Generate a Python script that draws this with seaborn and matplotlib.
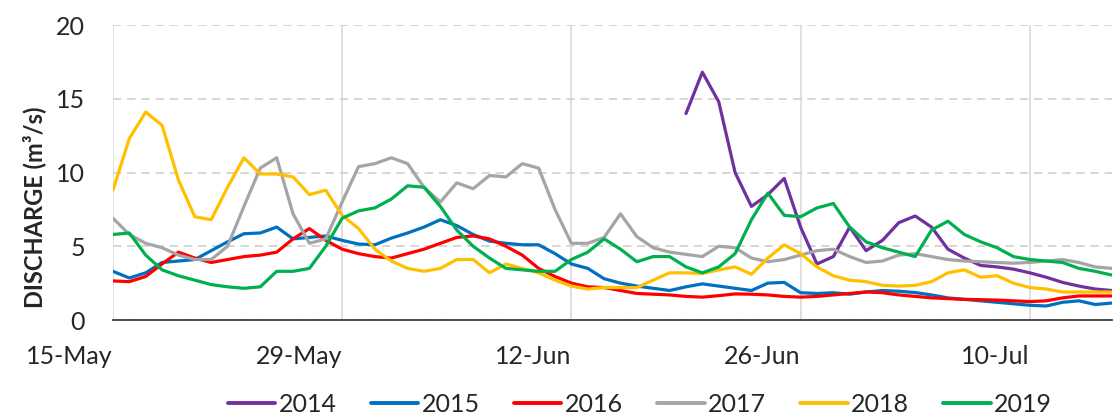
import numpy as np
import pandas as pd
import seaborn as sns
import matplotlib.pyplot as plt
import matplotlib.dates as mdates

# daily discharge (m3/s), 15-May .. 15-Jul
dates = pd.date_range("2019-05-15", "2019-07-15", freq="D")
years = ["2014", "2015", "2016", "2017", "2018", "2019"]
colors = ["#7030A0", "#0070C0", "#FF0000", "#A5A5A5", "#FFC000", "#00B050"]

q2014 = [np.nan] * 35 + [14.0, 16.8, 14.8, 10.0, 7.7, 8.5, 9.6, 6.3, 3.8, 4.3,
                         6.3, 4.7, 5.4, 6.6, 7.05, 6.3, 4.8, 4.2, 3.7, 3.6,
                         3.45, 3.2, 2.9, 2.55, 2.3, 2.1, 2.0]
q2015 = [3.3, 2.85, 3.2, 3.9, 4.0, 4.1, 4.7, 5.3, 5.85, 5.9,
         6.3, 5.5, 5.6, 5.7, 5.4, 5.15, 5.1, 5.55, 5.9, 6.3,
         6.8, 6.4, 5.8, 5.35, 5.2, 5.1, 5.1, 4.5, 3.8, 3.5,
         2.8, 2.5, 2.3, 2.15, 2.0, 2.25, 2.45, 2.3, 2.15, 2.0,
         2.5, 2.55, 1.85, 1.8, 1.85, 1.75, 1.9, 2.0, 1.95, 1.86,
         1.7, 1.5, 1.4, 1.3, 1.2, 1.1, 1.0, 0.95, 1.2, 1.3,
         1.05, 1.15]
q2016 = [2.65, 2.6, 2.95, 3.8, 4.6, 4.2, 3.9, 4.1, 4.3, 4.4,
         4.6, 5.5, 6.2, 5.4, 4.8, 4.5, 4.3, 4.2, 4.5, 4.8,
         5.2, 5.6, 5.7, 5.5, 5.0, 4.4, 3.5, 2.95, 2.5, 2.25,
         2.2, 2.0, 1.8, 1.75, 1.7, 1.6, 1.55, 1.65, 1.77, 1.75,
         1.7, 1.6, 1.55, 1.6, 1.7, 1.8, 1.9, 1.85, 1.7, 1.6,
         1.5, 1.45, 1.4, 1.38, 1.35, 1.3, 1.25, 1.3, 1.5, 1.63,
         1.63, 1.63]
q2017 = [6.9, 5.8, 5.2, 4.9, 4.4, 4.1, 4.1, 5.0, 7.7, 10.3,
         11.0, 7.2, 5.2, 5.5, 8.0, 10.4, 10.6, 11.0, 10.6, 9.0,
         8.0, 9.3, 8.9, 9.8, 9.7, 10.6, 10.3, 7.5, 5.2, 5.2,
         5.6, 7.2, 5.65, 4.9, 4.6, 4.45, 4.3, 5.0, 4.9, 4.2,
         3.95, 4.1, 4.4, 4.7, 4.8, 4.3, 3.9, 4.0, 4.4, 4.5,
         4.3, 4.1, 4.0, 3.95, 3.9, 3.85, 3.9, 4.0, 4.1, 3.9,
         3.6, 3.5]
q2018 = [8.8, 12.3, 14.1, 13.2, 9.5, 7.0, 6.8, 9.0, 11.0, 9.9,
         9.9, 9.7, 8.5, 8.8, 7.1, 6.2, 4.8, 4.0, 3.5, 3.3,
         3.5, 4.1, 4.1, 3.2, 3.8, 3.5, 3.2, 2.7, 2.3, 2.1,
         2.2, 2.2, 2.2, 2.7, 3.2, 3.2, 3.15, 3.4, 3.6, 3.1,
         4.2, 5.1, 4.5, 3.6, 3.0, 2.7, 2.6, 2.35, 2.3, 2.35,
         2.6, 3.2, 3.4, 2.9, 3.0, 2.5, 2.2, 2.1, 1.9, 1.9,
         1.9, 1.9]
q2019 = [5.8, 5.9, 4.4, 3.4, 3.0, 2.7, 2.4, 2.25, 2.15, 2.25,
         3.3, 3.3, 3.5, 5.0, 6.9, 7.4, 7.6, 8.2, 9.1, 9.0,
         7.7, 6.1, 5.0, 4.2, 3.5, 3.4, 3.3, 3.3, 4.1, 4.6,
         5.5, 4.8, 3.95, 4.3, 4.3, 3.6, 3.2, 3.6, 4.5, 6.8,
         8.6, 7.1, 7.0, 7.6, 7.9, 6.3, 5.3, 4.9, 4.6, 4.3,
         6.1, 6.7, 5.8, 5.3, 4.9, 4.3, 4.1, 4.0, 3.9, 3.5,
         3.3, 3.05]

series = [q2014, q2015, q2016, q2017, q2018, q2019]
df = pd.concat(
    [pd.DataFrame({"date": dates, "year": y, "discharge": q}) for y, q in zip(years, series)]
).dropna()

sns.set_style("white")
plt.rcParams["font.family"] = ["Lato", "DejaVu Sans"]

fig, ax = plt.subplots(figsize=(11.15, 4.17), dpi=100)
fig.subplots_adjust(left=0.1013, right=0.997, top=0.94, bottom=0.2326)

sns.lineplot(data=df, x="date", y="discharge", hue="year", hue_order=years,
             palette=colors, lw=2.3, ax=ax)

ax.set_xlim(dates[0], dates[-1])
ax.set_ylim(0, 20)
ax.set_yticks([0, 5, 10, 15, 20])
ax.set_xticks(pd.date_range("2019-05-15", "2019-07-10", freq="14D"))
ax.xaxis.set_major_formatter(mdates.DateFormatter("%d-%b"))
ax.set_xlabel("")
ax.set_ylabel("")

ax.xaxis.grid(True, color="#D9D9D9", lw=1.2, ls="-")
ax.yaxis.grid(True, color="#D0D0D0", lw=1.2, ls=(0, (5, 3.5)))
for s in ["left", "right", "top"]:
    ax.spines[s].set_visible(False)
ax.spines["bottom"].set_color("#404040")
ax.spines["bottom"].set_linewidth(1.3)

ax.tick_params(axis="x", direction="inout", length=14, width=1.3, color="#404040",
               labelsize=18, pad=11)
ax.tick_params(axis="y", length=0, labelsize=18, pad=20)
for lbl in ax.get_xticklabels():
    lbl.set_ha("right")

fig.text(0.031, 0.503, "DISCHARGE (m³/s)", rotation=90, ha="center", va="center",
         fontsize=17, fontweight="bold")

handles, labels = ax.get_legend_handles_labels()
ax.get_legend().remove()
leg = fig.legend(handles, labels, loc="center", bbox_to_anchor=(0.574, 0.03), ncol=6,
                 frameon=False, fontsize=18, handlelength=1.9, handletextpad=0.15,
                 columnspacing=1.35)
for h in leg.get_lines():
    h.set_linewidth(2.8)

fig.savefig("out.png", dpi=100)
